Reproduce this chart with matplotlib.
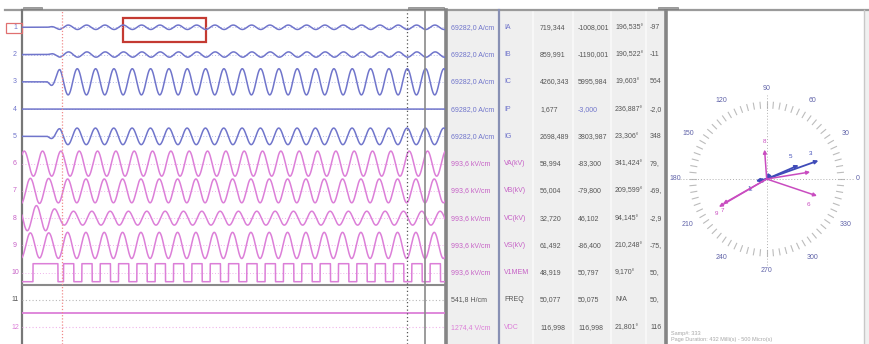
import numpy as np
import matplotlib
matplotlib.use('Agg')
import matplotlib.pyplot as plt
from matplotlib.patches import Rectangle

plt.rcParams['font.family'] = ['Liberation Sans', 'DejaVu Sans']

# ---------------- data ----------------
channel_numbers = list(range(1, 13))
channel_names = ['IA', 'IB', 'IC', 'IP', 'IG', 'VA(kV)', 'VB(kV)', 'VC(kV)', 'VS(kV)', 'V1MEM', 'FREQ', 'VDC']
scale_labels = ['69282,0 A/cm'] * 5 + ['993,6 kV/cm'] * 5 + ['541,8 H/cm', '1274,4 V/cm']
col_value1 = ['719,344', '859,991', '4260,343', '1,677', '2698,489', '58,994', '56,004',
              '32,720', '61,492', '48,919', '50,077', '116,998']
col_value2 = ['-1008,001', '-1190,001', '5995,984', '-3,000', '3803,987', '-83,300', '-79,800',
              '46,102', '-86,400', '50,797', '50,075', '116,998']
col_angle = ['196,535°', '190,522°', '19,603°', '236,887°', '23,306°', '341,424°', '209,599°',
             '94,145°', '210,248°', '9,170°', 'N/A', '21,801°']
col_last = ['-97', '-11', '564', '-2,0', '348', '79,', '-69,', '-2,9', '-75,', '50,', '50,', '116']

# phasors of channels 1..10 (magnitude, angle in degrees)
current_mag = [719.344, 859.991, 4260.343, 1.677, 2698.489]
current_ang = [196.535, 190.522, 19.603, 236.887, 23.306]
voltage_mag = [58.994, 56.004, 32.720, 61.492, 48.919]
voltage_ang = [341.424, 209.599, 94.145, 210.248, 9.170]
# pre-fault voltages (VA, VB, VC, VS)
prefault_voltage_mag = [59.0, 59.0, 59.0, 59.0]
prefault_voltage_ang = [341.4, 221.4, 101.4, 221.4]
vdc_value = 116.998
v1mem_prefault_edges = [-31.6, -4.4]   # ms: rise, hand-over to post-fault pattern

sample_number = 333
page_text = 'Page Duration: 432 Milli(s) - 500 Micro(s)'

# ---------------- styles / layout ----------------
W, H = 869, 344
ROW = 27.27
TOP = 10
BLUE = '#7075cb'
PINK = '#dc7fd8'
MAG = '#c660c6'
BLUE_L = '#b8bce8'
PINK_L = '#efb4eb'
GRAY_TXT = '#555555'

freq_hz = 50.0
t_ref = -2.2
t_fault0, t_fault1 = -16.0, -2.0
t_min, t_max = -43.6, 417.9
k_i = 1.127e-4      # rows per A
k_v = 0.0078        # rows per kV
sq_amp = 0.33

fig = plt.figure(figsize=(W / 100, H / 100), dpi=100)
bg = fig.add_axes([0, 0, 1, 1])
bg.set_xlim(0, W)
bg.set_ylim(H, 0)
bg.axis('off')

# backgrounds
bg.add_patch(Rectangle((446, TOP), 666 - 446, H - TOP, facecolor='#efefef', edgecolor='none', zorder=0))
bg.add_patch(Rectangle((864, TOP), W - 864, H - TOP, facecolor='#f0f0f0', edgecolor='none', zorder=0))
for xs in (533, 573, 611, 646):
    bg.plot([xs, xs], [TOP, H], color='#f9f9f9', lw=1.2, zorder=1)

# frame lines
bg.plot([5, W], [TOP, TOP], color='#9a9a9a', lw=1.6, zorder=3)
bg.plot([22, 22], [TOP, H], color='#777777', lw=1.6, zorder=3)
bg.plot([446, 446], [TOP, H], color='#858585', lw=2.6, zorder=3)
bg.plot([499, 499], [TOP, H], color='#8890b4', lw=1.6, zorder=3)
bg.plot([666, 666], [TOP, H], color='#858585', lw=2.6, zorder=3)
bg.plot([864, 864], [TOP, H], color='#c8c8c8', lw=1.0, zorder=3)
for x0, x1 in ((23, 42), (408, 444), (658, 678)):
    bg.add_patch(Rectangle((x0, 6.5), x1 - x0, 2.5, facecolor='#a0a0a0', edgecolor='#707070', lw=0.4, zorder=3))

# channel numbers & table
num_colors = [BLUE] * 5 + [MAG] * 5 + [GRAY_TXT, PINK]
name_colors = num_colors
for i, n in enumerate(channel_numbers):
    y = ROW * n
    bg.text(15, y, str(n), color=num_colors[i], fontsize=5, ha='center', va='center', zorder=4)
    bg.text(451, y, scale_labels[i], color=num_colors[i], fontsize=5, ha='left', va='center', zorder=4)
    bg.text(504, y, channel_names[i], color=name_colors[i], fontsize=5, ha='left', va='center', zorder=4)
    bg.text(540, y, col_value1[i], color=GRAY_TXT, fontsize=5, ha='left', va='center', zorder=4)
    c2 = BLUE if channel_names[i] == 'IP' else GRAY_TXT
    bg.text(578, y, col_value2[i], color=c2, fontsize=5, ha='left', va='center', zorder=4)
    bg.text(615, y, col_angle[i], color=GRAY_TXT, fontsize=5, ha='left', va='center', zorder=4)
    bg.text(650, y, col_last[i], color=GRAY_TXT, fontsize=5, ha='left', va='center', zorder=4)
bg.add_patch(Rectangle((6, 22.5), 16, 10, facecolor='none', edgecolor='#e07070', lw=0.9, zorder=4))

# ---------------- waveforms ----------------
wax = fig.add_axes([22 / W, 0, (445 - 22) / W, (H - TOP) / H])
wax.patch.set_visible(False)
wax.set_xlim(t_min, t_max)
wax.set_ylim(H / ROW, TOP / ROW)
wax.axis('off')

t = np.linspace(t_min, t_max, 6000)
w = 2 * np.pi * freq_hz / 1000.0
env = np.clip((t - t_fault0) / (t_fault1 - t_fault0), 0, 1)

def phasewave(mag, ang_deg):
    return mag * np.cos(w * (t - t_ref) + np.deg2rad(ang_deg))

for i in range(5):
    row = i + 1
    sig = k_i * env * phasewave(current_mag[i], current_ang[i])
    wax.plot([t_min, t_max], [row, row], color=BLUE_L, lw=0.7, ls=(0, (1, 2)))
    wax.plot(t, row - sig, color=BLUE, lw=1.1)

for j in range(4):
    row = j + 6
    pre = phasewave(prefault_voltage_mag[j], prefault_voltage_ang[j])
    post = phasewave(voltage_mag[j], voltage_ang[j])
    sig = k_v * ((1 - env) * pre + env * post)
    wax.plot([t_min, t_max], [row, row], color=PINK_L, lw=0.7, ls=(0, (1, 2)))
    wax.plot(t, row - sig, color=PINK, lw=1.1)

# channel 10 : V1MEM digital-looking square
row = 10
post_sq = np.where(np.cos(w * (t - t_ref) + np.deg2rad(voltage_ang[4])) < 0.2, 1.0, -1.0)
pre_sq = np.where(t >= v1mem_prefault_edges[0], 1.0, -1.0)
sq = np.where(t < v1mem_prefault_edges[1], pre_sq, post_sq)
wax.plot([t_min, t_max], [row, row], color=PINK_L, lw=0.7, ls=(0, (1, 2)))
wax.plot(t, row - sq_amp * sq, color=PINK, lw=1.1)

# separator between analog and aux channels
wax.axhline(285 / ROW, color='#8a8a8a', lw=1.5)
# channel 11 FREQ
wax.plot([t_min, t_max], [11, 11], color='#b8b8b8', lw=0.8, ls=(0, (1, 2)))
# channel 12 VDC
wax.plot([t_min, t_max], [12, 12], color=PINK_L, lw=0.8, ls=(0, (1, 2)))
vdc_row = 12 - vdc_value * 0.0044
wax.plot([t_min, t_max], [vdc_row, vdc_row], color=PINK, lw=1.3)

# cursors
wax.axvline(0.0, color='#f08a8a', lw=0.9, ls=(0, (1, 1.5)))
wax.axvline(376.4, color='#555555', lw=0.9, ls=(0, (1, 2)))
wax.axvline(396.0, color='#8a8a8a', lw=1.2)

# red selection box
bg.add_patch(Rectangle((123, 18), 83, 24, facecolor='none', edgecolor='#c43a32', lw=1.6, zorder=5))

# ---------------- phasor diagram ----------------
pax = fig.add_axes([666.7 / W, (H - 279) / H, 200 / W, 200 / H])
pax.set_xlim(-100, 100)
pax.set_ylim(-100, 100)
pax.axis('off')

for a in range(0, 360, 5):
    r = np.deg2rad(a)
    pax.plot([71 * np.cos(r), 77 * np.cos(r)], [71 * np.sin(r), 77 * np.sin(r)],
             color='#bcbcbc', lw=0.8)
for a in range(0, 360, 30):
    r = np.deg2rad(a)
    pax.text(91 * np.cos(r), 91 * np.sin(r), str(a), color='#5f62a8', fontsize=5,
             ha='center', va='center')
pax.plot([-87, 87], [0, 0], color='#b0b0b0', lw=0.7, ls=(0, (1, 2)))
pax.plot([0, 0], [-86, 84], color='#b0b0b0', lw=0.7, ls=(0, (1, 2)))

px_per_A = 0.0129
px_per_kV = 0.9
label_offsets = {1: (-6, -5), 2: (-4, -6), 3: (-6, 5), 4: (-3, -6), 5: (-6, 6),
                 6: (-6, -6), 7: (0, -5), 8: (0, 6), 9: (-2, -5), 10: (4, 3)}

def draw_phasor(ch, mag, ang, scale, color, lw):
    L = mag * scale
    x, y = L * np.cos(np.deg2rad(ang)), L * np.sin(np.deg2rad(ang))
    pax.annotate('', xy=(x, y), xytext=(0, 0),
                 arrowprops=dict(arrowstyle='-|>', color=color, lw=lw, mutation_scale=5,
                                 shrinkA=0, shrinkB=0))
    dx, dy = label_offsets[ch]
    if ch not in (4, 10):
        pax.annotate(str(ch), xy=(x, y), xytext=(dx, dy), textcoords='offset points',
                     color=color, fontsize=4.5, ha='center', va='center')

for i in range(5):
    draw_phasor(i + 1, current_mag[i], current_ang[i], px_per_A, '#3f4bb8', 1.3)
for j in range(5):
    draw_phasor(j + 6, voltage_mag[j], voltage_ang[j], px_per_kV, '#c94cc0', 1.1)

bg.text(671, 333, f'Samp#: {sample_number}', color='#a8a8a8', fontsize=4, ha='left', va='center')
bg.text(671, 340, page_text, color='#a8a8a8', fontsize=4, ha='left', va='center')

fig.savefig('out.png', dpi=100)
